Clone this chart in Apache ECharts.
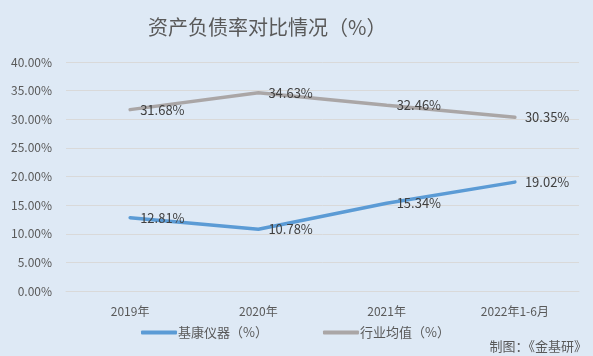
<!DOCTYPE html>
<html><head><meta charset="utf-8">
<script src="https://cdn.jsdelivr.net/npm/echarts@6/dist/echarts.min.js"></script>
<style>html,body{margin:0;padding:0;background:#dee9f5;}#c{width:593px;height:356px;}</style>
</head><body><div id="c"></div>
<script>
const categories = ['2019年', '2020年', '2021年', '2022年1-6月'];
const jikang = [12.81, 10.78, 15.34, 19.02];
const industry = [31.68, 34.63, 32.46, 30.35];
const seriesNames = ['基康仪器（%）', '行业均值（%）'];

const chart = echarts.init(document.getElementById('c'));
const font = '"Microsoft YaHei","Noto Sans CJK SC",sans-serif';
const lbl = {
  show: true, position: 'right', distance: 10, color: '#404040', fontSize: 13, fontFamily: font,
  formatter: p => p.value.toFixed(2) + '%'
};
chart.setOption({
  backgroundColor: '#dee9f5',
  animation: false,
  title: { text: '资产负债率对比情况（%）', left: 143, top: 12,
    textStyle: { fontSize: 20, fontWeight: 'normal', color: '#595959', fontFamily: font } },
  grid: { left: 66, right: 14, top: 62, bottom: 65 },
  legend: { bottom: 12, left: 136, itemGap: 55, itemWidth: 36, itemHeight: 4,
    icon: 'roundRect',
    textStyle: { fontSize: 13, color: '#595959', fontFamily: font, padding: [0,0,0,-4] },
    data: seriesNames },
  graphic: [{ type: 'text', right: 6, bottom: 3,
    style: { text: '制图：《金基研》', fontSize: 13, fill: '#595959', fontFamily: font } }],
  xAxis: { type: 'category', data: categories,
    axisLine: { lineStyle: { color: '#d9d9d9' } }, axisTick: { show: false },
    axisLabel: { color: '#595959', fontSize: 12, margin: 14, fontFamily: font } },
  yAxis: { type: 'value', min: 0, max: 40, interval: 5,
    axisLabel: { color: '#595959', fontSize: 12, margin: 14, fontFamily: font,
      formatter: v => v.toFixed(2) + '%' },
    splitLine: { lineStyle: { color: '#d9d9d9' } },
    axisLine: { show: false } },
  series: [
    { name: seriesNames[0], type: 'line', data: jikang, symbol: 'circle', symbolSize: 0,
      lineStyle: { width: 3.5, color: '#5b9bd5', cap: 'round' }, itemStyle: { color: '#5b9bd5' }, label: lbl },
    { name: seriesNames[1], type: 'line', data: industry, symbol: 'circle', symbolSize: 0,
      lineStyle: { width: 3.5, color: '#aaa6a6', cap: 'round' }, itemStyle: { color: '#aaa6a6' }, label: lbl }
  ]
});
</script></body></html>
